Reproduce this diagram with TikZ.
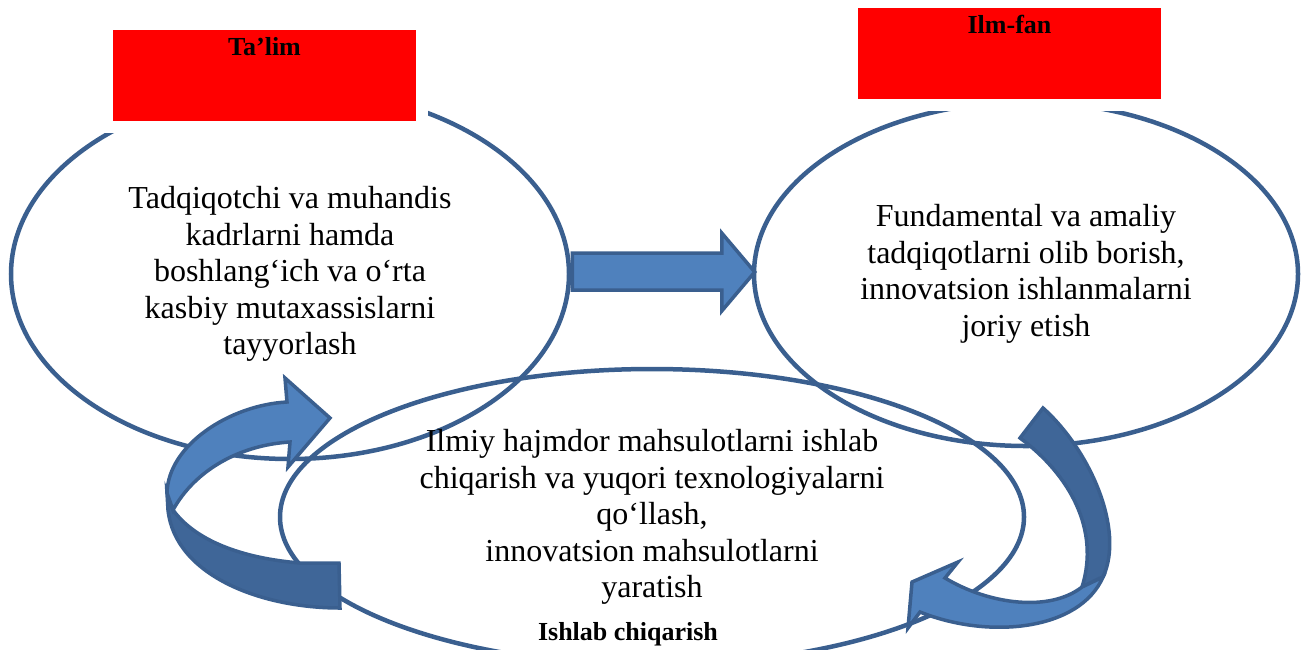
\documentclass[tikz,border=0pt]{standalone}
\usepackage{fontspec}
\setmainfont{Liberation Serif}
\usetikzlibrary{shapes.geometric,positioning}

\definecolor{linecol}{RGB}{58,95,143}
\definecolor{arrowlight}{RGB}{79,129,189}
\definecolor{arrowdark}{RGB}{63,102,152}

\tikzset{
  sector/.style={ellipse, draw=linecol, line width=4.5pt, inner sep=0pt, align=center,
    font=\fontsize{32}{36.6}\selectfont},
  redbox/.style={rectangle, fill=red, draw=white, line width=12pt, outer sep=0pt,
    minimum width=315pt, minimum height=103pt, inner sep=0pt},
  boxlabel/.style={font=\bfseries\fontsize{26}{30}\selectfont, inner sep=0pt},
  bluearrow/.style={fill=arrowlight, draw=linecol, line width=3.5pt, line join=miter},
  darkarrow/.style={fill=arrowdark, draw=linecol, line width=3.5pt, line join=miter}
}

\begin{document}
\begin{tikzpicture}[x=1pt, y=-1pt]
        \useasboundingbox (0,0) rectangle (1308,649);
        \clip (0,0) rectangle (1308,649);

        % Draw the three ellipses
        \node[sector, minimum width=558pt, minimum height=370pt] (talim) at (290,274)
            {Tadqiqotchi va muhandis\\kadrlarni hamda\\boshlang‘ich va o‘rta\\kasbiy mutaxassislarni\\tayyorlash};
        \node[sector, minimum width=544pt, minimum height=344pt] (ilmfan) at (1026,274)
            {Fundamental va amaliy\\tadqiqotlarni olib borish,\\innovatsion ishlanmalarni\\joriy etish};
        \node[sector, minimum width=744pt, minimum height=296pt] (ishlab) at (652,517)
            {Ilmiy hajmdor mahsulotlarni ishlab\\chiqarish va yuqori texnologiyalarni\\qo‘llash,\\innovatsion mahsulotlarni\\yaratish};

        % Add the red title boxes
        \node[redbox] (talimbox) at (264.5,75.5) {};
        \node[redbox] (ilmbox) at (1009.5,53.5) {};
        \node[boxlabel, below=13pt of talimbox.north] {Ta’lim};
        \node[boxlabel, below=13pt of ilmbox.north] {Ilm-fan};
        \node[boxlabel, anchor=base] (ishlablabel) at (628,640) {Ishlab chiqarish};

        % Block arrow from Ta'lim to Ilm-fan
        \draw[bluearrow] ([shift={(1,-21)}]talim.east) -- ([shift={(-30,-21)}]ilmfan.west)
            -- ([shift={(-30,-41)}]ilmfan.west) -- ([shift={(3,-2)}]ilmfan.west)
            -- ([shift={(-30,37)}]ilmfan.west) -- ([shift={(-30,16)}]ilmfan.west)
            -- ([shift={(1,16)}]talim.east) -- cycle;

        % Curved arrow on the left
        \draw[darkarrow] (167,493) -- (168,510) .. controls (175,575) and (260,608) .. (340,608)
            -- (339,563) -- (300,563) .. controls (240,558) and (195,540) .. (173,510) -- cycle;
        \draw[bluearrow] (167,493) .. controls (168,445) and (230,405) .. (287,402)
            -- (285,378) -- (330,418) -- (288,467) -- (290,442)
            .. controls (240,445) and (195,470) .. (173,510) -- cycle;

        % Curved arrow on the right
        \draw[darkarrow] (1043,408) .. controls (1090,450) and (1125,530) .. (1103,577)
            -- (1082,587) .. controls (1100,530) and (1070,475) .. (1020,438) -- cycle;
        \draw[bluearrow] (1103,577) .. controls (1080,630) and (990,640) .. (920,612)
            -- (908,628) -- (912,582) -- (958,562) -- (945,578)
            .. controls (990,605) and (1050,612) .. (1082,587) -- cycle;
    \end{tikzpicture}
\end{document}
